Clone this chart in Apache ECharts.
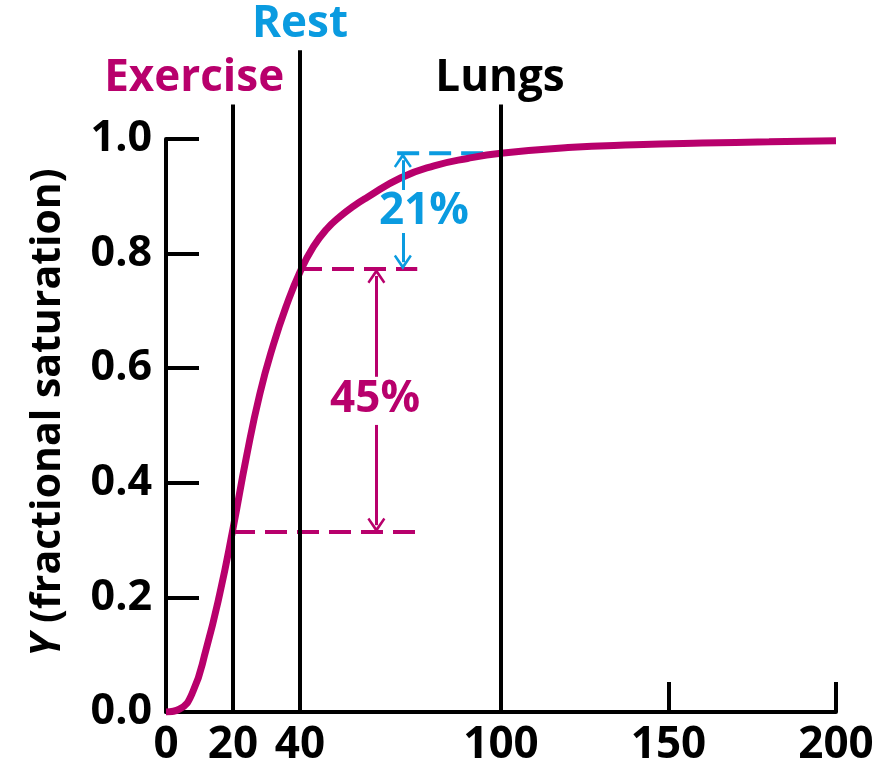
<!DOCTYPE html>
<html><head><meta charset="utf-8">
<script src="https://cdn.jsdelivr.net/npm/echarts@6/dist/echarts.min.js"></script>
<style>html,body{margin:0;padding:0;background:#fff}#c{width:880px;height:769px}</style>
</head><body><div id="c"></div>
<script>
// O2 binding curve
const pO2 = [0,4,8,12,16,20,24,28,32,36,40,44,48,52,56,60,70,80,90,100,120,140,160,180,200];
const saturation = [0,0.005,0.035,0.11,0.205,0.32,0.445,0.555,0.64,0.71,0.768,0.812,0.843,0.865,0.883,0.898,0.932,0.953,0.966,0.975,0.985,0.99,0.993,0.995,0.997];
const xTickLabels = [0,20,40,100,150,200];
const xTickMarks = [150,200];
const yTickLabels = [0,0.2,0.4,0.6,0.8,1.0];
// tissue / lung pO2 markers
const markerNames = ['Exercise','Rest','Lungs'];
const markerX = [20,40,100];
const markerTop = [1.06,1.155,1.06];
const markerLabelX = [8.4,40,99.7];
const markerLabelY = [1.105,1.2,1.105];
// saturation levels (dashed)
const levelSat = [0.314,0.773,0.975];
const levelFrom = [20,40,69];
const levelTo = [75,75,100];
// differences
const diffText = ['45%','21%'];
const diffX = [62.8,70.7];
const diffLow = [0.314,0.773];
const diffHigh = [0.773,0.975];
const diffGapLow = [0.501,0.836];
const diffGapHigh = [0.585,0.911];
const diffLabelX = [62.4,77];
const diffLabelY = [0.546,0.873];

const MAG = '#B8006C', BLUE = '#0A9BE0', BLACK = '#000';
const FONT = 'Open Sans';
const markerColors = [MAG, BLUE, BLACK];
const levelColors = [MAG, MAG, BLUE];
const diffColors = [MAG, BLUE];
const chevron = 'path://M5,0 L10,9 L8.9,10 L5,3.3 L1.1,10 L0,9 Z';
const tip = 0.012;

const series = [];
series.push({
  type:'line', data: pO2.map((x,i)=>[x, saturation[i]]), smooth:0.5,
  symbol:'none', lineStyle:{color:MAG, width:7}, z:3, silent:true
});
levelSat.forEach((y,i)=>{
  series.push({type:'line', data:[[levelFrom[i],y],[levelTo[i],y]], symbol:'none', clip:false, silent:true,
    lineStyle:{color:levelColors[i], width:4, type:[22,10]}, z:2});
});
markerX.forEach((x,i)=>{
  series.push({type:'line', data:[[x,0],[x,markerTop[i]]], symbol:'none', clip:false, silent:true,
    lineStyle:{color:BLACK, width:4}, z:4});
});
// arrows via markLine (auto rotated symbols)
const arrowLines = [];
diffX.forEach((x,i)=>{
  const c = diffColors[i];
  arrowLines.push([{coord:[x,diffGapHigh[i]], lineStyle:{color:c, width:3, type:'solid'}, itemStyle:{color:c}, symbol:'none'},
                   {coord:[x,diffHigh[i]-tip], itemStyle:{color:c}, symbol:chevron}]);
  arrowLines.push([{coord:[x,diffGapLow[i]], lineStyle:{color:c, width:3, type:'solid'}, itemStyle:{color:c}, symbol:'none'},
                   {coord:[x,diffLow[i]+tip], itemStyle:{color:c}, symbol:chevron}]);
});
series.push({type:'line', data:[], silent:true,
  markLine:{silent:true, animation:false, symbolSize:[18,15], label:{show:false},
    lineStyle:{width:3, type:'solid'}, data: arrowLines}
});
// text labels
const textItems = markerNames.map((n,i)=>({name:n, value:[markerLabelX[i], markerLabelY[i]], c:markerColors[i]}))
  .concat(diffText.map((t,i)=>({name:t, value:[diffLabelX[i], diffLabelY[i]], c:diffColors[i]})));
series.push({type:'scatter', symbolSize:0, clip:false, silent:true,
  data:textItems.map(d=>({name:d.name, value:d.value, itemStyle:{color:d.c, opacity:1},
    label:{color:d.c}})),
  label:{show:true, position:'inside', formatter:'{b}', fontSize:44, fontWeight:'bold', fontFamily:FONT,
    textBorderWidth:0, textShadowBlur:0, opacity:1}, z:6});

const chart = echarts.init(document.getElementById('c'));
chart.setOption({
  animation:false,
  backgroundColor:'#fff',
  grid:{left:166, right:44, top:139, bottom:57, containLabel:false},
  xAxis:{type:'value', min:0, max:200,
    axisLine:{show:true, lineStyle:{color:BLACK, width:4}},
    axisTick:{show:true, inside:true, length:30, lineStyle:{width:4, color:BLACK}, customValues:xTickMarks},
    axisLabel:{customValues:xTickLabels, fontSize:44, fontWeight:'bold', fontFamily:FONT, color:BLACK, margin:11},
    splitLine:{show:false}},
  yAxis:{type:'value', min:0, max:1, interval:0.2,
    name:'{i|Y} (fractional saturation)', nameLocation:'middle', nameRotate:90, nameGap:97,
    nameTextStyle:{fontSize:41, fontWeight:'bold', fontFamily:FONT, color:BLACK, padding:[0,0,0,26],
      rich:{i:{fontSize:41, fontWeight:'bold', fontStyle:'italic', fontFamily:FONT, color:BLACK}}},
    axisLine:{show:true, lineStyle:{color:BLACK, width:4}},
    axisTick:{show:true, inside:true, length:33, lineStyle:{width:4, color:BLACK}},
    axisLabel:{fontSize:43, fontWeight:'bold', fontFamily:FONT, color:BLACK, margin:14,
      formatter:v=>v.toFixed(1)},
    splitLine:{show:false}},
  series: series
});
</script></body></html>
